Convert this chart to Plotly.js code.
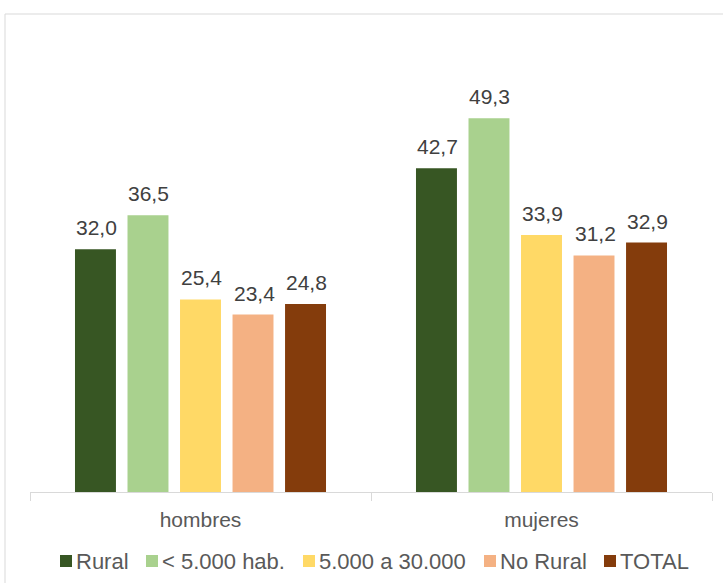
<!DOCTYPE html>
<html>
<head>
<meta charset="utf-8">
<script src="https://cdn.plot.ly/plotly-3.0.1.min.js"></script>
<style>html,body{margin:0;padding:0;background:#fff}#chart{width:723px;height:583px}</style>
</head>
<body>
<div id="chart"></div>
<script>
const categories = ["hombres", "mujeres"];
const seriesNames = ["Rural", "< 5.000 hab.", "5.000 a 30.000", "No Rural", "TOTAL"];
const rural = [32.0, 42.7];
const menos5000 = [36.5, 49.3];
const de5000a30000 = [25.4, 33.9];
const noRural = [23.4, 31.2];
const total = [24.8, 32.9];
const colors = ["#375623", "#A9D18E", "#FFD966", "#F4B183", "#843C0C"];

const FONT = "Liberation Sans, Arial, sans-serif";
const values = [rural, menos5000, de5000a30000, noRural, total];
const traces = values.map((v, i) => ({
  type: "bar",
  name: seriesNames[i],
  x: categories,
  y: v,
  marker: {color: colors[i]},
  hoverinfo: "none",
  showlegend: false
}));

// plot area in pixels
const W = 723, H = 583, ML = 30, MR = 11, MT = 37, MB = 91;
const PW = W - ML - MR, PH = H - MT - MB;
const slot = PW / categories.length * (1 - 0.23) / values.length;

const annotations = [];
values.forEach((v, i) => {
  v.forEach((val, j) => {
    annotations.push({
      x: categories[j], y: val, xref: "x", yref: "y",
      text: val.toFixed(1).replace(".", ","),
      showarrow: false, xanchor: "center", yanchor: "bottom",
      xshift: (i - 2) * slot + 1, yshift: 8,
      font: {family: FONT, size: 21, color: "#404040"}
    });
  });
});

// custom legend (layout positions in pixels)
const legendSq = [60, 146, 303, 484, 604];
const legendY = 561;
const shapes = [{
  type: "rect", xref: "paper", yref: "paper",
  x0: (5 - ML) / PW, x1: 1.2, y0: -0.4, y1: (H - MB - 14) / PH,
  line: {color: "#d9d9d9", width: 1}, fillcolor: "rgba(0,0,0,0)", layer: "below"
}];
seriesNames.forEach((name, i) => {
  const px = legendSq[i];
  shapes.push({
    type: "rect", xref: "paper", yref: "paper",
    x0: (px - ML) / PW, x1: (px + 12 - ML) / PW,
    y0: (H - MB - (legendY + 6)) / PH, y1: (H - MB - (legendY - 6)) / PH,
    line: {width: 0}, fillcolor: colors[i]
  });
  annotations.push({
    xref: "paper", yref: "paper",
    x: (px + 14 - ML) / PW, y: (H - MB - legendY) / PH,
    xanchor: "left", yanchor: "middle", showarrow: false,
    text: name.replace("<", "&lt;"),
    font: {family: FONT, size: 22, color: "#595959"}
  });
});

const layout = {
  width: W, height: H,
  margin: {l: ML, r: MR, t: MT, b: MB, autoexpand: false},
  paper_bgcolor: "#fff", plot_bgcolor: "#fff",
  separators: ",.",
  barmode: "group",
  bargap: 0.23,
  bargroupgap: 0.22,
  font: {family: FONT, size: 21, color: "#595959"},
  xaxis: {
    showline: true, linecolor: "#d9d9d9", linewidth: 1,
    ticks: "outside", tickson: "boundaries", ticklen: 8, tickcolor: "#d9d9d9",
    tickfont: {size: 21, color: "#595959"},
    ticklabelstandoff: 9,
    showgrid: false
  },
  yaxis: {range: [0, 60], visible: false, showgrid: false, zeroline: false},
  showlegend: false,
  annotations: annotations,
  shapes: shapes
};

Plotly.newPlot("chart", traces, layout, {displayModeBar: false, staticPlot: true});
</script>
</body>
</html>
